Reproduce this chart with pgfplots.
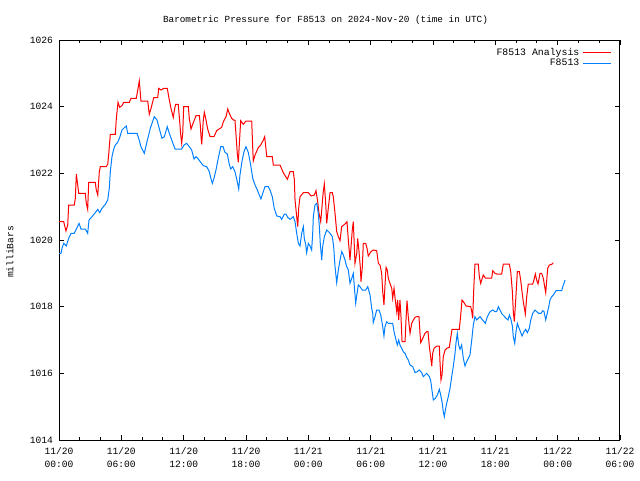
\documentclass[border=0pt]{standalone}
\usepackage{pgfplots}
\pgfplotsset{compat=1.18}
\usepackage{pgfplotstable}
\usepackage{fontspec}
\setmainfont{Liberation Mono}
\definecolor{anred}{RGB}{255,0,0}
\definecolor{obsblue}{RGB}{0,128,255}
\pgfplotstableread{
h p
0.00 1020.55
0.45 1020.55
0.67 1020.27
0.84 1020.45
0.93 1021.05
1.47 1021.05
1.57 1021.25
1.67 1021.98
1.76 1021.75
1.90 1021.40
2.53 1021.40
2.63 1021.10
2.76 1020.92
2.86 1021.73
3.49 1021.73
3.59 1021.50
3.73 1021.35
3.88 1022.05
3.98 1022.20
4.55 1022.20
4.69 1022.27
4.78 1022.55
4.94 1023.17
5.42 1023.17
5.52 1023.65
5.68 1024.13
5.84 1023.98
6.06 1024.03
6.23 1024.13
6.77 1024.13
6.93 1024.25
7.44 1024.25
7.58 1024.50
7.73 1024.77
7.89 1024.17
8.54 1024.17
8.69 1023.77
8.86 1023.95
9.12 1024.27
9.50 1024.27
9.60 1024.55
9.82 1024.50
10.08 1024.55
10.42 1024.55
10.62 1024.20
10.78 1023.95
11.00 1023.68
11.14 1023.95
11.23 1024.07
11.48 1024.07
11.58 1023.70
11.72 1023.15
11.81 1022.90
11.91 1023.20
12.00 1024.00
12.45 1024.00
12.54 1023.65
12.71 1023.33
12.87 1023.47
13.19 1023.73
13.51 1023.73
13.60 1023.45
13.67 1023.10
13.74 1022.87
13.89 1023.60
13.99 1023.83
14.12 1023.65
14.31 1023.33
14.54 1023.10
14.92 1023.10
15.18 1023.28
15.66 1023.38
15.82 1023.55
16.08 1023.70
16.24 1023.93
16.39 1023.80
16.62 1023.65
16.78 1023.60
16.94 1023.60
17.04 1023.15
17.16 1022.60
17.26 1022.33
17.39 1023.05
17.49 1023.58
17.74 1023.47
18.00 1023.57
18.55 1023.57
18.65 1022.75
18.70 1022.37
18.87 1022.55
19.18 1022.77
19.42 1022.85
19.67 1023.00
19.80 1023.10
20.00 1022.50
20.53 1022.50
20.63 1022.25
21.27 1022.25
21.59 1022.02
21.98 1021.82
22.24 1022.05
22.55 1022.05
22.65 1021.82
22.72 1021.20
22.88 1020.70
22.98 1020.40
23.07 1020.95
23.20 1021.30
23.52 1021.42
24.00 1021.42
24.26 1021.32
24.58 1021.35
24.74 1021.48
24.90 1021.15
25.03 1020.80
25.19 1020.55
25.29 1020.90
25.38 1021.25
25.44 1021.45
25.54 1021.68
25.67 1021.10
25.77 1020.50
25.92 1020.95
26.09 1021.42
26.31 1021.42
26.40 1021.30
26.57 1020.80
26.73 1020.25
26.89 1020.10
27.05 1019.98
27.21 1020.40
27.53 1020.48
27.72 1020.55
27.85 1020.00
28.01 1019.40
28.11 1019.80
28.23 1020.30
28.33 1020.55
28.43 1019.80
28.49 1019.30
28.66 1019.60
28.75 1020.05
28.88 1019.65
29.00 1019.20
29.07 1018.75
29.20 1019.20
29.29 1019.90
29.52 1019.90
29.65 1019.75
29.77 1019.52
30.03 1019.65
30.25 1019.70
30.58 1019.68
30.74 1019.30
30.90 1019.25
31.06 1019.00
31.16 1018.45
31.28 1018.05
31.38 1018.65
31.48 1019.18
31.60 1019.10
31.70 1018.85
31.86 1018.70
32.03 1018.55
32.12 1018.25
32.25 1018.55
32.37 1018.20
32.51 1017.85
32.60 1018.20
32.70 1017.60
32.82 1018.20
32.92 1017.70
33.02 1016.95
33.31 1016.95
33.40 1017.60
33.50 1018.18
33.62 1017.70
33.79 1017.20
33.95 1017.50
34.11 1017.60
34.27 1017.68
34.43 1017.70
34.65 1017.70
34.75 1017.20
34.82 1016.92
35.01 1017.05
35.23 1017.20
35.39 1017.25
35.52 1017.25
35.65 1016.80
35.78 1016.48
35.88 1016.22
35.97 1016.60
36.10 1016.75
36.36 1016.82
36.61 1016.82
36.68 1016.30
36.77 1015.80
36.87 1015.95
36.99 1016.50
37.16 1016.70
37.32 1016.75
37.57 1016.78
37.70 1017.05
37.83 1017.32
38.53 1017.32
38.67 1017.75
38.79 1018.20
38.99 1018.12
39.18 1018.02
39.63 1018.00
39.73 1017.85
39.82 1017.65
39.92 1018.50
40.04 1019.28
40.36 1019.28
40.46 1018.90
40.59 1018.70
40.69 1018.80
40.84 1018.95
41.04 1018.86
41.65 1018.86
41.75 1019.08
41.97 1019.00
42.13 1018.98
42.61 1018.98
42.77 1019.28
43.35 1019.28
43.48 1019.05
43.64 1018.45
43.73 1017.85
43.83 1017.55
43.96 1018.20
44.12 1019.05
44.31 1019.05
44.44 1018.80
44.57 1018.45
44.69 1018.15
44.89 1017.78
45.02 1018.30
45.17 1018.68
45.60 1018.68
45.72 1018.80
45.85 1018.98
45.98 1018.80
46.11 1018.68
46.30 1019.00
46.46 1019.00
46.62 1018.85
46.75 1018.60
46.85 1018.42
46.95 1018.80
47.04 1019.15
47.20 1019.25
47.43 1019.27
47.58 1019.32
}\analysis
\pgfplotstableread{
h p
0.00 1019.60
0.19 1019.60
0.29 1019.75
0.45 1019.90
0.70 1019.82
0.93 1020.05
1.16 1020.20
1.47 1020.20
1.67 1020.33
1.93 1020.50
2.12 1020.33
2.53 1020.33
2.76 1020.20
2.89 1020.60
3.18 1020.70
3.49 1020.82
3.73 1020.92
3.92 1020.82
4.14 1020.95
4.46 1021.07
4.69 1021.20
4.84 1021.55
4.94 1022.05
5.10 1022.50
5.27 1022.73
5.42 1022.85
5.65 1022.93
5.84 1023.07
6.06 1023.30
6.29 1023.37
6.48 1023.42
6.61 1023.20
7.51 1023.20
7.67 1023.05
7.89 1022.80
8.21 1022.60
8.47 1022.95
8.79 1023.35
9.17 1023.70
9.43 1023.60
9.69 1023.30
9.91 1023.05
10.14 1023.10
10.42 1023.40
10.62 1023.20
10.85 1023.00
11.17 1022.73
11.81 1022.73
12.03 1022.85
12.29 1022.90
12.54 1022.80
12.77 1022.70
13.00 1022.43
13.19 1022.50
13.41 1022.43
13.64 1022.33
13.89 1022.23
14.22 1022.20
14.47 1022.05
14.60 1021.87
14.76 1021.70
14.92 1021.85
15.11 1022.10
15.33 1022.45
15.57 1022.80
15.79 1022.80
15.98 1022.63
16.20 1022.58
16.39 1022.27
16.53 1022.13
16.72 1022.20
16.94 1022.05
17.16 1021.75
17.30 1021.53
17.42 1021.95
17.62 1022.37
17.81 1022.65
18.00 1022.80
18.22 1022.63
18.45 1022.25
18.65 1021.85
18.87 1021.65
19.09 1021.50
19.28 1021.35
19.44 1021.23
19.61 1021.40
19.83 1021.60
20.15 1021.60
20.31 1021.50
20.53 1021.30
20.72 1020.95
20.96 1020.72
21.27 1020.70
21.44 1020.62
21.69 1020.78
21.85 1020.78
22.01 1020.68
22.24 1020.62
22.55 1020.70
22.72 1020.55
22.88 1020.20
23.04 1019.90
23.20 1019.82
23.36 1020.20
23.52 1020.40
23.61 1020.05
23.75 1019.85
23.84 1019.62
24.00 1019.90
24.16 1019.82
24.32 1019.70
24.42 1020.20
24.48 1020.70
24.64 1021.05
24.81 1021.10
24.96 1020.80
25.06 1020.40
25.15 1019.90
25.29 1019.40
25.38 1019.80
25.54 1020.10
25.77 1020.30
26.09 1020.20
26.31 1020.10
26.44 1019.80
26.57 1019.20
26.73 1018.72
26.89 1019.10
27.05 1019.40
27.21 1019.65
27.37 1019.55
27.53 1019.40
27.69 1019.20
27.85 1019.10
28.01 1018.70
28.18 1018.85
28.33 1019.00
28.43 1018.60
28.56 1018.10
28.69 1018.40
28.81 1018.65
28.97 1018.60
29.20 1018.50
29.52 1018.50
29.72 1018.60
29.94 1018.35
30.10 1017.95
30.20 1017.80
30.25 1017.52
30.42 1017.70
30.58 1017.90
30.80 1017.90
30.97 1017.75
31.16 1017.40
31.28 1017.12
31.38 1017.40
31.54 1017.55
31.70 1017.50
32.12 1017.50
32.25 1017.25
32.44 1017.00
32.57 1016.85
32.70 1017.00
32.82 1016.85
32.99 1016.75
33.14 1016.65
33.31 1016.60
33.47 1016.48
33.62 1016.40
33.79 1016.25
34.05 1016.20
34.27 1016.02
34.49 1016.05
34.68 1016.10
34.91 1016.02
35.07 1015.90
35.23 1015.95
35.39 1016.00
35.65 1015.90
35.78 1015.78
35.90 1015.50
36.03 1015.20
36.22 1015.25
36.42 1015.35
36.61 1015.52
36.74 1015.35
36.87 1015.15
36.99 1014.85
37.09 1014.70
37.19 1014.90
37.32 1015.10
37.47 1015.30
37.64 1015.55
37.80 1015.90
37.95 1016.20
38.12 1016.60
38.21 1016.90
38.34 1017.20
38.47 1016.85
38.60 1016.72
38.76 1016.85
38.92 1016.45
39.08 1016.22
39.24 1016.35
39.40 1016.45
39.56 1016.55
39.73 1017.00
39.88 1017.45
40.04 1017.70
40.21 1017.60
40.36 1017.65
40.53 1017.70
40.72 1017.62
40.91 1017.55
41.04 1017.50
41.23 1017.70
41.49 1017.85
41.75 1017.90
41.97 1017.85
42.13 1017.85
42.29 1018.00
42.45 1017.90
42.64 1017.78
42.84 1017.72
43.03 1017.65
43.22 1017.60
43.35 1017.75
43.48 1017.65
43.64 1017.42
43.73 1017.10
43.87 1016.90
43.99 1017.25
44.12 1017.50
44.25 1017.38
44.38 1017.28
44.57 1017.12
44.76 1017.25
44.92 1017.32
45.08 1017.22
45.27 1017.35
45.41 1017.60
45.60 1017.80
45.82 1017.90
45.98 1017.85
46.18 1017.80
46.40 1017.80
46.56 1017.88
46.69 1017.85
46.85 1017.60
47.00 1017.80
47.14 1018.00
47.26 1018.20
47.43 1018.30
47.58 1018.35
47.84 1018.48
48.39 1018.48
48.49 1018.60
48.61 1018.70
48.71 1018.80
}\observed
\begin{document}
\begin{tikzpicture}
\useasboundingbox (0pt,0pt) rectangle (480pt,360pt);
\begin{axis}[
  at={(44.25pt,30pt)}, anchor=south west,
  scale only axis, width=420.75pt, height=300pt,
  xmin=0, xmax=54, ymin=1014, ymax=1026,
  xtick={0,6,...,54},
  xticklabels={{11/20\\00:00},{11/20\\06:00},{11/20\\12:00},{11/20\\18:00},{11/21\\00:00},{11/21\\06:00},{11/21\\12:00},{11/21\\18:00},{11/22\\00:00},{11/22\\06:00}},
  minor x tick num=2,
  ytick={1014,1016,...,1026},
  /pgf/number format/1000 sep={},
  /pgf/number format/fixed,
  /pgf/number format/assume math mode=true,
  tick align=inside,
  major tick length=4pt, minor tick length=2.5pt,
  tick style={black, line width=0.6pt},
  axis line style={line width=0.75pt},
  xticklabel style={align=center, font=\fontsize{7.2}{9.5}\selectfont, yshift=-2pt},
  yticklabel style={font=\fontsize{7.2}{9}\selectfont, xshift=-1pt},
  title={Barometric Pressure for F8513 on 2024-Nov-20 (time in UTC)},
  title style={font=\fontsize{7}{9}\selectfont, at={(0.5,1)}, anchor=center, yshift=9pt, xshift=-10.5pt},
  ylabel={milliBars},
  ylabel style={font=\fontsize{7.2}{9}\selectfont, at={(axis description cs:0,0.47)}, anchor=center, yshift=36.75pt, xshift=0pt},
  legend cell align=right,
  legend plot pos=right,
  legend style={at={(1,1)}, anchor=north east, draw=none, fill=none, xshift=-5pt, yshift=-3pt,
    font=\fontsize{7.4}{9}\selectfont, row sep=-3pt, inner sep=1pt},
  legend image code/.code={\draw[#1] (0pt,0pt) -- (21.5pt,0pt);},
]
\addplot[anred, line width=0.75pt, line join=miter] table[x=h, y=p] {\analysis};
\addlegendentry{F8513 Analysis}
\addplot[obsblue, line width=0.75pt] table[x=h, y=p] {\observed};
\addlegendentry{F8513}
\end{axis}
\end{tikzpicture}
\end{document}
